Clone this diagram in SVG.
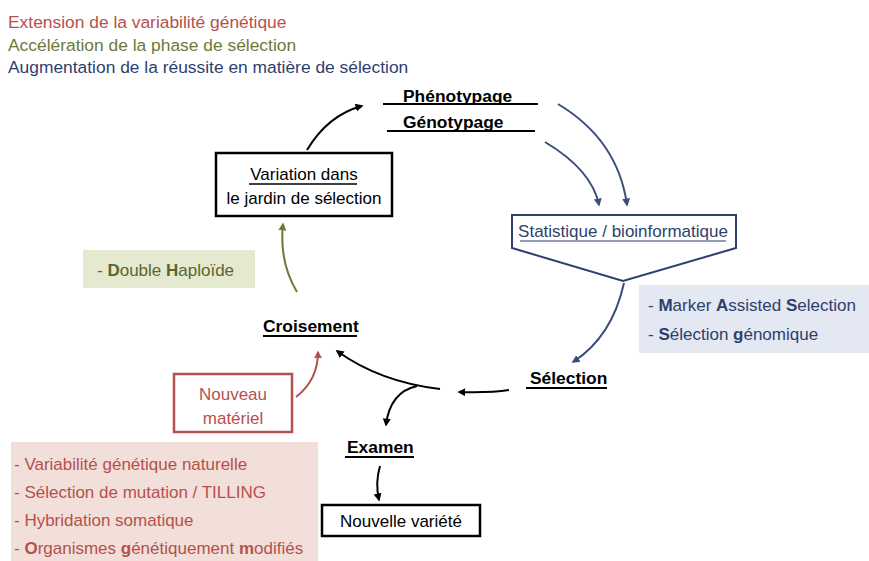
<svg xmlns="http://www.w3.org/2000/svg" width="869" height="561" viewBox="0 0 869 561">
<style>
text{font-family:"Liberation Sans Narrow","Liberation Sans",Arial,sans-serif;font-size:17px}
.lg{font-size:17.4px}
.b{font-weight:bold}
.red{fill:#b5514d}
.olv{fill:#6b7a3a}
.nav{fill:#2e3f6e}
.blk{fill:#000}
.c{fill:none;stroke-width:2}
.ck{stroke:#000}
.cn{stroke:#3a4d7a}
.cr{stroke:#b5514d}
.cg{stroke:#6b7a3a}
</style>
<defs>
<marker id="ak" viewBox="0 0 10 10" refX="8" refY="5" markerWidth="4" markerHeight="4" orient="auto"><path d="M0,0L10,5L0,10z" fill="#000"/></marker>
<marker id="an" viewBox="0 0 10 10" refX="8" refY="5" markerWidth="4" markerHeight="4" orient="auto"><path d="M0,0L10,5L0,10z" fill="#3a4d7a"/></marker>
<marker id="ar" viewBox="0 0 10 10" refX="8" refY="5" markerWidth="4" markerHeight="4" orient="auto"><path d="M0,0L10,5L0,10z" fill="#b5514d"/></marker>
<marker id="ag" viewBox="0 0 10 10" refX="8" refY="5" markerWidth="4" markerHeight="4" orient="auto"><path d="M0,0L10,5L0,10z" fill="#6b7a3a"/></marker>
</defs>

<g id="legend">
<text x="8" y="28" class="lg red">Extension de la variabilité génétique</text>
<text x="8" y="51" class="lg olv">Accélération de la phase de sélection</text>
<text x="8" y="73" class="lg nav">Augmentation de la réussite en matière de sélection</text>
</g>

<g id="connectors">
<path class="c ck" d="M307,150 Q328,115 362,106" marker-end="url(#ak)"/>
<path class="c cn" d="M558,104 Q618,140 627,205" marker-end="url(#an)"/>
<path class="c cn" d="M545,142 Q592,170 599,205" marker-end="url(#an)"/>
<path class="c cn" d="M624,283 Q612,337 573,362" marker-end="url(#an)"/>
<path class="c ck" d="M509,390 Q490,393 459,392" marker-end="url(#ak)"/>
<path class="c ck" d="M440,389 Q380,382 337,351" marker-end="url(#ak)"/>
<path class="c ck" d="M417,386 Q390,392 386,425" marker-end="url(#ak)"/>
<path class="c ck" d="M380,466 Q375,483 379,500" marker-end="url(#ak)"/>
<path class="c cr" d="M296,397 Q318,380 318,352" marker-end="url(#ar)"/>
<path class="c cg" d="M297,292 Q279,262 283,224" marker-end="url(#ag)"/>
</g>

<g id="phenotypage">
<text x="403" y="102" class="lg b blk">Phénotypage</text>
<line x1="383" y1="104" x2="538" y2="104" stroke="#000" stroke-width="2"/>
</g>
<g id="genotypage">
<text x="403" y="128" class="lg b blk">Génotypage</text>
<line x1="387" y1="131" x2="535" y2="131" stroke="#000" stroke-width="2"/>
</g>

<g id="variation">
<rect x="216" y="153" width="176" height="63" fill="#fff" stroke="#000" stroke-width="2.5"/>
<text x="304" y="180" text-anchor="middle" class="blk">Variation dans</text>
<line x1="249" y1="184" x2="357" y2="184" stroke="#000" stroke-width="1.5"/>
<text x="304" y="204" text-anchor="middle" class="blk">le jardin de sélection</text>
</g>

<g id="statistique">
<path d="M512,215 L736,215 L736,248 L623,281 L512,248 Z" fill="#fff" stroke="#2e3f6e" stroke-width="2"/>
<text x="623" y="237" text-anchor="middle" class="nav">Statistique / bioinformatique</text>
<line x1="520" y1="241" x2="726" y2="241" stroke="#2e3f6e" stroke-width="1.2"/>
</g>

<g id="mas">
<rect x="639" y="285" width="230" height="68" fill="#e3e8f2"/>
<text x="648" y="311" class="nav">- <tspan class="b">M</tspan>arker <tspan class="b">A</tspan>ssisted <tspan class="b">S</tspan>election</text>
<text x="648" y="340" class="nav">- <tspan class="b">S</tspan>élection <tspan class="b">g</tspan>énomique</text>
</g>

<g id="selection">
<text x="530" y="384" class="lg b blk">Sélection</text>
<line x1="526" y1="388" x2="607" y2="388" stroke="#000" stroke-width="2"/>
</g>

<g id="croisement">
<text x="263" y="332" class="lg b blk">Croisement</text>
<line x1="263" y1="336" x2="357" y2="336" stroke="#000" stroke-width="2"/>
</g>

<g id="haploide">
<rect x="83" y="250" width="172" height="38" fill="#e4e9cf"/>
<text x="97" y="276" fill="#5a6630">- <tspan class="b">D</tspan>ouble <tspan class="b">H</tspan>aploïde</text>
</g>

<g id="nouveau">
<rect x="174" y="374" width="118" height="58" fill="#fff" stroke="#b5514d" stroke-width="2.5"/>
<text x="233" y="400" text-anchor="middle" class="red">Nouveau</text>
<text x="233" y="424" text-anchor="middle" class="red">matériel</text>
</g>

<g id="sources">
<rect x="11" y="442" width="307" height="119" fill="#f2dfd9"/>
<text x="14" y="470" class="red">- Variabilité génétique naturelle</text>
<text x="14" y="498" class="red">- Sélection de mutation / TILLING</text>
<text x="14" y="526" class="red">- Hybridation somatique</text>
<text x="14" y="554" class="red">- <tspan class="b">O</tspan>rganismes <tspan class="b">g</tspan>énétiquement <tspan class="b">m</tspan>odifiés</text>
</g>

<g id="examen">
<text x="347" y="453" class="lg b blk">Examen</text>
<line x1="345" y1="457" x2="414" y2="457" stroke="#000" stroke-width="2"/>
</g>

<g id="nouvelle">
<rect x="322" y="505" width="158" height="31" fill="#fff" stroke="#000" stroke-width="2.5"/>
<text x="401" y="527" text-anchor="middle" class="blk">Nouvelle variété</text>
</g>
</svg>
